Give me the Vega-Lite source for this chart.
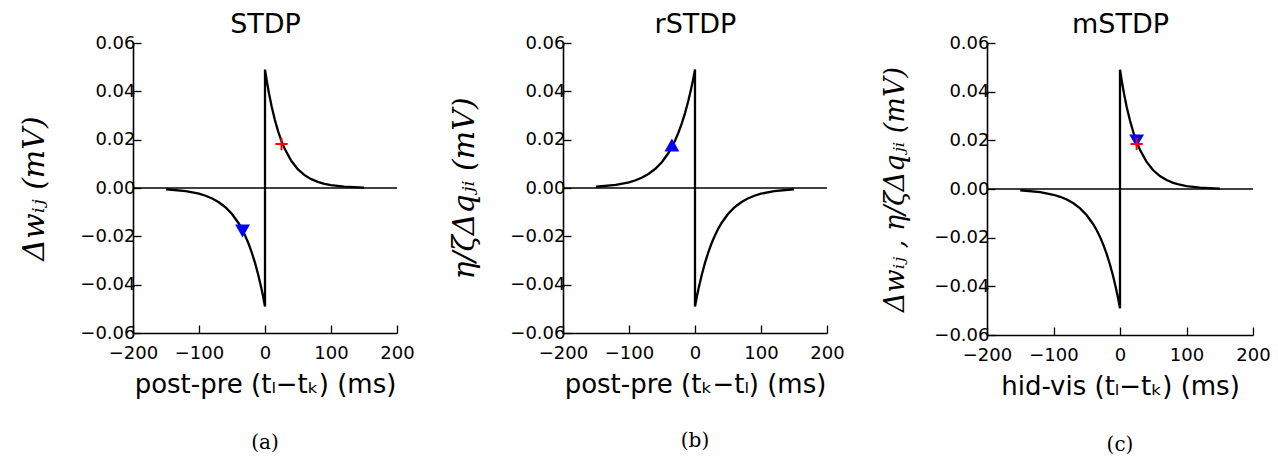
{
  "$schema": "https://vega.github.io/schema/vega-lite/v6.json",
  "autosize": {"type": "pad"},
  "padding": {"left": 19, "top": 10, "right": 5, "bottom": 5},
  "background": "white",
  "config": {
    "font": "DejaVu Sans",
    "view": {"stroke": null},
    "axis": {"grid": false, "domainColor": "black", "domainWidth": 1.6, "tickColor": "black", "tickWidth": 1.3, "tickSize": -8, "labelFont": "DejaVu Sans", "labelFontSize": 18, "labelColor": "black", "titleColor": "black", "titleFontWeight": "normal", "labelPadding": 8, "labelOverlap": false, "labelFlush": false},
    "title": {"color": "black", "fontWeight": "normal"}
  },
  "datasets": {
    "curveA": [
      {"i": 0, "t": -150, "v": -0.00052}, {"i": 1, "t": -120, "v": -0.00129}, {"i": 2, "t": -100, "v": -0.00237}, {"i": 3, "t": -90, "v": -0.0032}, {"i": 4, "t": -80, "v": -0.00434}, {"i": 5, "t": -70, "v": -0.00588}, {"i": 6, "t": -60, "v": -0.00795}, {"i": 7, "t": -50, "v": -0.01077}, {"i": 8, "t": -40, "v": -0.01458}, {"i": 9, "t": -35, "v": -0.01697}, {"i": 10, "t": -30, "v": -0.01974}, {"i": 11, "t": -25, "v": -0.02297}, {"i": 12, "t": -20, "v": -0.02673}, {"i": 13, "t": -15, "v": -0.03111}, {"i": 14, "t": -10, "v": -0.03619}, {"i": 15, "t": -6, "v": -0.04086}, {"i": 16, "t": -3, "v": -0.04474}, {"i": 17, "t": 0, "v": -0.049},
      {"i": 18, "t": 0, "v": 0.049}, {"i": 19, "t": 3, "v": 0.04385}, {"i": 20, "t": 6, "v": 0.03923}, {"i": 21, "t": 10, "v": 0.03383}, {"i": 22, "t": 15, "v": 0.02812}, {"i": 23, "t": 20, "v": 0.02336}, {"i": 24, "t": 25, "v": 0.01941}, {"i": 25, "t": 30, "v": 0.01613}, {"i": 26, "t": 40, "v": 0.01114}, {"i": 27, "t": 50, "v": 0.00769}, {"i": 28, "t": 60, "v": 0.00531}, {"i": 29, "t": 70, "v": 0.00367}, {"i": 30, "t": 80, "v": 0.00253}, {"i": 31, "t": 90, "v": 0.00175}, {"i": 32, "t": 100, "v": 0.00121}, {"i": 33, "t": 120, "v": 0.00058}, {"i": 34, "t": 150, "v": 0.00019}
    ],
    "curveB": [
      {"i": 0, "t": -150, "v": 0.00052}, {"i": 1, "t": -120, "v": 0.00129}, {"i": 2, "t": -100, "v": 0.00237}, {"i": 3, "t": -90, "v": 0.0032}, {"i": 4, "t": -80, "v": 0.00434}, {"i": 5, "t": -70, "v": 0.00588}, {"i": 6, "t": -60, "v": 0.00795}, {"i": 7, "t": -50, "v": 0.01077}, {"i": 8, "t": -40, "v": 0.01458}, {"i": 9, "t": -35, "v": 0.01697}, {"i": 10, "t": -30, "v": 0.01974}, {"i": 11, "t": -25, "v": 0.02297}, {"i": 12, "t": -20, "v": 0.02673}, {"i": 13, "t": -15, "v": 0.03111}, {"i": 14, "t": -10, "v": 0.03619}, {"i": 15, "t": -6, "v": 0.04086}, {"i": 16, "t": -3, "v": 0.04474}, {"i": 17, "t": 0, "v": 0.049},
      {"i": 18, "t": 0, "v": -0.049}, {"i": 19, "t": 3, "v": -0.04474}, {"i": 20, "t": 6, "v": -0.04086}, {"i": 21, "t": 10, "v": -0.03619}, {"i": 22, "t": 15, "v": -0.03111}, {"i": 23, "t": 20, "v": -0.02673}, {"i": 24, "t": 25, "v": -0.02297}, {"i": 25, "t": 30, "v": -0.01974}, {"i": 26, "t": 35, "v": -0.01697}, {"i": 27, "t": 40, "v": -0.01458}, {"i": 28, "t": 50, "v": -0.01077}, {"i": 29, "t": 60, "v": -0.00795}, {"i": 30, "t": 70, "v": -0.00588}, {"i": 31, "t": 80, "v": -0.00434}, {"i": 32, "t": 90, "v": -0.0032}, {"i": 33, "t": 100, "v": -0.00237}, {"i": 34, "t": 120, "v": -0.00129}, {"i": 35, "t": 150, "v": -0.00052}
    ],
    "zero": [{"v": 0}],
    "plusA": [{"t": 25, "v": 0.0182}],
    "triA": [{"t": -34, "v": -0.0178}],
    "triB": [{"t": -35, "v": 0.0178}],
    "plusC": [{"t": 25, "v": 0.0185}],
    "triC": [{"t": 25, "v": 0.0198}]
  },
  "bounds": "flush",
  "spacing": 166,
  "hconcat": [
    {
      "width": 264, "height": 290,
      "title": {"text": "(a)", "orient": "bottom", "font": "DejaVu Serif", "fontSize": 20, "offset": 36},
      "resolve": {"axis": {"x": "independent"}},
      "layer": [
        {"data": {"name": "curveA"}, "mark": {"type": "line", "color": "black", "strokeWidth": 2.3},
         "encoding": {
           "x": {"field": "t", "type": "quantitative", "scale": {"domain": [-200, 200], "nice": false, "zero": false}, "axis": {"values": [-200, -100, 0, 100, 200], "labelFontSize": 18, "labelPadding": 19, "title": "post-pre (tₗ−tₖ) (ms)", "titleFont": "DejaVu Sans", "titleFontSize": 26, "titlePadding": 9}},
           "y": {"field": "v", "type": "quantitative", "scale": {"domain": [-0.06, 0.06], "nice": false}, "axis": {"values": [-0.06, -0.04, -0.02, 0, 0.02, 0.04, 0.06], "format": ".2f", "labelFontSize": 18, "title": "Δwᵢⱼ   (mV)", "titleFont": "DejaVu Serif", "titleFontStyle": "italic", "titleFontSize": 30, "titlePadding": 30, "labelPadding": 6}},
           "order": {"field": "i", "type": "quantitative"}}},
        {"data": {"name": "zero"}, "mark": {"type": "rule", "color": "black", "strokeWidth": 1.5},
         "encoding": {"y": {"field": "v", "type": "quantitative"}}},
        {"data": {"name": "plusA"}, "mark": {"type": "point", "shape": "M-1,0L1,0M0,-1L0,1", "filled": false, "color": "#ff0000", "strokeWidth": 2, "size": 150, "opacity": 1},
         "encoding": {"x": {"field": "t", "type": "quantitative", "axis": null}, "y": {"field": "v", "type": "quantitative"}}},
        {"data": {"name": "triA"}, "mark": {"type": "point", "shape": "triangle-down", "filled": true, "color": "#0000ff", "size": 220, "opacity": 1},
         "encoding": {"x": {"field": "t", "type": "quantitative", "axis": {"orient": "top", "domain": false, "ticks": false, "labels": false, "title": "STDP", "titleFont": "DejaVu Sans", "titleFontSize": 27, "titlePadding": 5}}, "y": {"field": "v", "type": "quantitative"}}}
      ]
    },
    {
      "bounds": "flush",
      "spacing": 160,
      "hconcat": [
        {
          "width": 264, "height": 290,
          "title": {"text": "(b)", "orient": "bottom", "font": "DejaVu Serif", "fontSize": 20, "offset": 34},
          "resolve": {"axis": {"x": "independent"}},
          "layer": [
            {"data": {"name": "curveB"}, "mark": {"type": "line", "color": "black", "strokeWidth": 2.3},
             "encoding": {
               "x": {"field": "t", "type": "quantitative", "scale": {"domain": [-200, 200], "nice": false, "zero": false}, "axis": {"values": [-200, -100, 0, 100, 200], "labelFontSize": 18, "labelPadding": 19, "title": "post-pre (tₖ−tₗ) (ms)", "titleFont": "DejaVu Sans", "titleFontSize": 26, "titlePadding": 9}},
               "y": {"field": "v", "type": "quantitative", "scale": {"domain": [-0.06, 0.06], "nice": false}, "axis": {"values": [-0.06, -0.04, -0.02, 0, 0.02, 0.04, 0.06], "format": ".2f", "labelFontSize": 18, "title": "η/ζΔqⱼᵢ    (mV)", "titleFont": "DejaVu Serif", "titleFontStyle": "italic", "titleFontSize": 30, "titlePadding": 30, "labelPadding": 6}},
               "order": {"field": "i", "type": "quantitative"}}},
            {"data": {"name": "zero"}, "mark": {"type": "rule", "color": "black", "strokeWidth": 1.5},
             "encoding": {"y": {"field": "v", "type": "quantitative"}}},
            {"data": {"name": "triB"}, "mark": {"type": "point", "shape": "triangle-up", "filled": true, "color": "#0000ff", "size": 220, "opacity": 1},
             "encoding": {"x": {"field": "t", "type": "quantitative", "axis": {"orient": "top", "domain": false, "ticks": false, "labels": false, "title": "rSTDP", "titleFont": "DejaVu Sans", "titleFontSize": 27, "titlePadding": 5}}, "y": {"field": "v", "type": "quantitative"}}}
          ]
        },
        {
          "width": 266, "height": 292,
          "title": {"text": "(c)", "orient": "bottom", "font": "DejaVu Serif", "fontSize": 20, "offset": 36},
          "resolve": {"axis": {"x": "independent"}},
          "layer": [
            {"data": {"name": "curveA"}, "mark": {"type": "line", "color": "black", "strokeWidth": 2.3},
             "encoding": {
               "x": {"field": "t", "type": "quantitative", "scale": {"domain": [-200, 200], "nice": false, "zero": false}, "axis": {"values": [-200, -100, 0, 100, 200], "labelFontSize": 18, "labelPadding": 19, "title": "hid-vis (tₗ−tₖ) (ms)", "titleFont": "DejaVu Sans", "titleFontSize": 26, "titlePadding": 9}},
               "y": {"field": "v", "type": "quantitative", "scale": {"domain": [-0.06, 0.06], "nice": false}, "axis": {"values": [-0.06, -0.04, -0.02, 0, 0.02, 0.04, 0.06], "format": ".2f", "labelFontSize": 18, "title": "Δwᵢⱼ  ,   η/ζΔqⱼᵢ   (mV)", "titleFont": "DejaVu Serif", "titleFontStyle": "italic", "titleFontSize": 27, "titlePadding": 24, "labelPadding": 6}},
               "order": {"field": "i", "type": "quantitative"}}},
            {"data": {"name": "zero"}, "mark": {"type": "rule", "color": "black", "strokeWidth": 1.5},
             "encoding": {"y": {"field": "v", "type": "quantitative"}}},
            {"data": {"name": "triC"}, "mark": {"type": "point", "shape": "triangle-down", "filled": true, "color": "#0000ff", "size": 220, "opacity": 1},
             "encoding": {"x": {"field": "t", "type": "quantitative", "axis": {"orient": "top", "domain": false, "ticks": false, "labels": false, "title": "mSTDP", "titleFont": "DejaVu Sans", "titleFontSize": 27, "titlePadding": 5}}, "y": {"field": "v", "type": "quantitative"}}},
            {"data": {"name": "plusC"}, "mark": {"type": "point", "shape": "M-1,0L1,0M0,-1L0,1", "filled": false, "color": "#ff0000", "strokeWidth": 2, "size": 150, "opacity": 1},
             "encoding": {"x": {"field": "t", "type": "quantitative", "axis": null}, "y": {"field": "v", "type": "quantitative"}}}
          ]
        }
      ]
    }
  ]
}
